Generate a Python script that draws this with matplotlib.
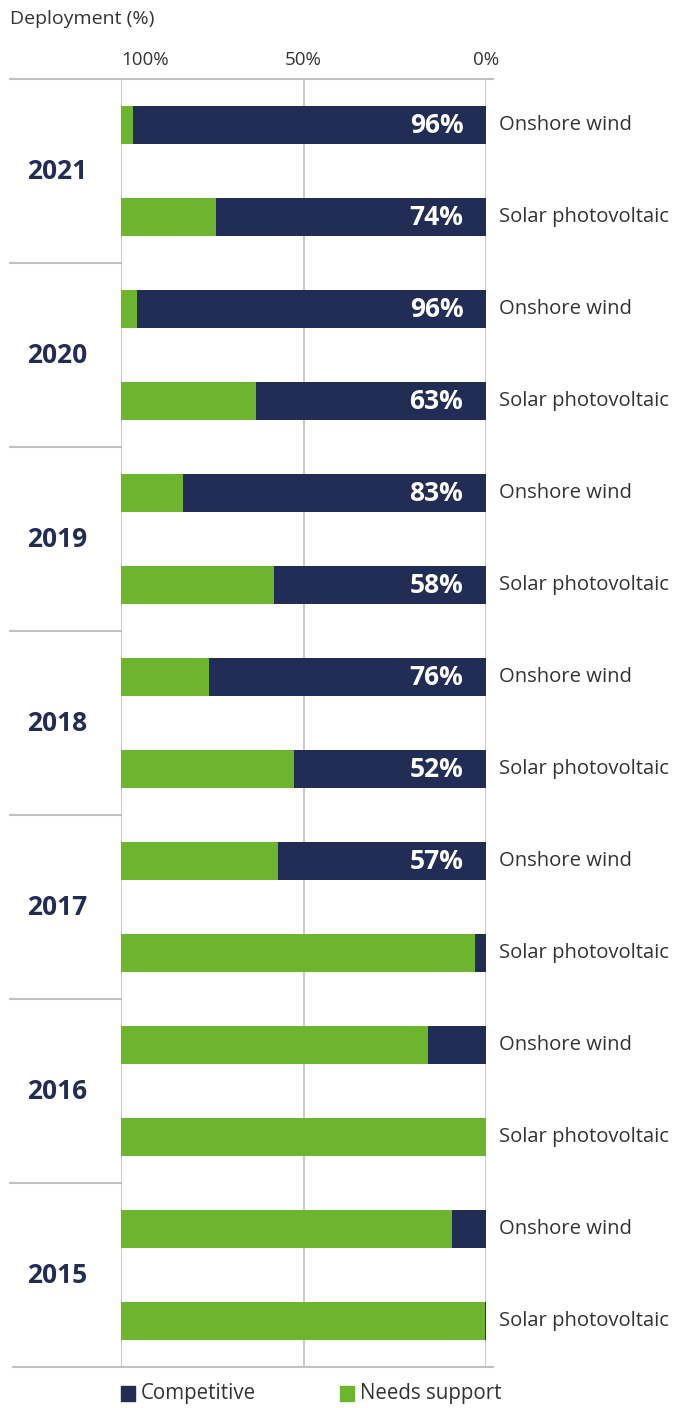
import matplotlib
matplotlib.use("Agg")
import matplotlib.pyplot as plt
import numpy as np

plt.rcParams['font.family'] = ['Open Sans', 'DejaVu Sans']

# data
years = ["2021", "2020", "2019", "2018", "2017", "2016", "2015"]
techs = ["Onshore wind", "Solar photovoltaic"]
# share of deployment that is competitive (%), per year: [wind, solar]
competitive = [
    [96.7, 74],
    [95.6, 63],
    [83, 58],
    [76, 52.5],
    [57, 3],
    [16, 0],
    [9.3, 0.3],
]
labels = [
    ["96%", "74%"],
    ["96%", "63%"],
    ["83%", "58%"],
    ["76%", "52%"],
    ["57%", ""],
    ["", ""],
    ["", ""],
]
ticks = [100, 50, 0]
tick_labels = ["100%", "50%", "0%"]

NAVY = "#222d55"
GREEN = "#6db52e"
GRID = "#c0c0c0"
TXT = "#333333"

W, H = 687, 1408
fig = plt.figure(figsize=(W / 100, H / 100), dpi=100)
ax_l, ax_r, ax_t, ax_b = 121, 486, 79, 1367
ax = fig.add_axes([ax_l / W, 1 - ax_b / H, (ax_r - ax_l) / W, (ax_b - ax_t) / H])

comp = np.array(competitive, dtype=float).ravel()
lab = np.array(labels).ravel()
cats = techs * len(years)
ypos = np.arange(len(comp))
bh = 0.41

ax.barh(ypos, comp, left=0, height=bh, color=NAVY, zorder=3)
ax.barh(ypos, 100 - comp, left=comp, height=bh, color=GREEN, zorder=3)

ax.set_xlim(100, 0)
ax.set_ylim(len(comp) - 0.5, -0.5)

# gridlines
for t in ticks:
    ax.axvline(t, color=GRID, lw=1.2, zorder=1)

pxw = ax_r - ax_l
def axx(px):
    return (px - ax_l) / pxw

tr = ax.get_yaxis_transform()
ax.plot([axx(10), axx(493)], [-0.5, -0.5], color=GRID, lw=1.5, transform=tr, clip_on=False)
ax.plot([axx(13), axx(493)], [len(comp) - 0.5] * 2, color=GRID, lw=1.5, transform=tr, clip_on=False)
for i in range(1, len(years)):
    yy = 2 * i - 0.5
    ax.plot([axx(10), 0], [yy, yy], color=GRID, lw=1.5, transform=tr, clip_on=False)

# year labels
for i, yr in enumerate(years):
    ax.text(axx(27), 2 * i + 0.5, yr, transform=tr, ha="left", va="center",
            fontsize=19, fontweight="bold", color=NAVY)

# category labels and values
for y, c, l in zip(ypos, cats, lab):
    ax.text(axx(499), y, c, transform=tr, ha="left", va="center",
            fontsize=14.6, color=TXT)
    if l:
        ax.text(6.2, y, l, ha="right", va="center", fontsize=19,
                fontweight="bold", color="white", zorder=4)

ax.xaxis.tick_top()
ax.set_xticks(ticks)
ax.set_xticklabels(tick_labels)
ax.tick_params(axis="x", length=0, pad=7, labelsize=13.5, labelcolor=TXT)
ax.get_xticklabels()[0].set_horizontalalignment("left")
ax.set_yticks([])
for s in ax.spines.values():
    s.set_visible(False)

fig.text(10 / W, 1 - 19 / H, "Deployment (%)", ha="left", va="center",
         fontsize=14, color=TXT)

# legend
for x0, col, name in [(121, NAVY, "Competitive"), (340, GREEN, "Needs support")]:
    fig.patches.append(plt.Rectangle((x0 / W, 1 - 1401 / H), 14 / W, 15 / H,
                                     transform=fig.transFigure, color=col))
    fig.text((x0 + 20) / W, 1 - 1394 / H, name, ha="left", va="center",
             fontsize=14.8, color=TXT)

fig.savefig("out.png", dpi=100)
